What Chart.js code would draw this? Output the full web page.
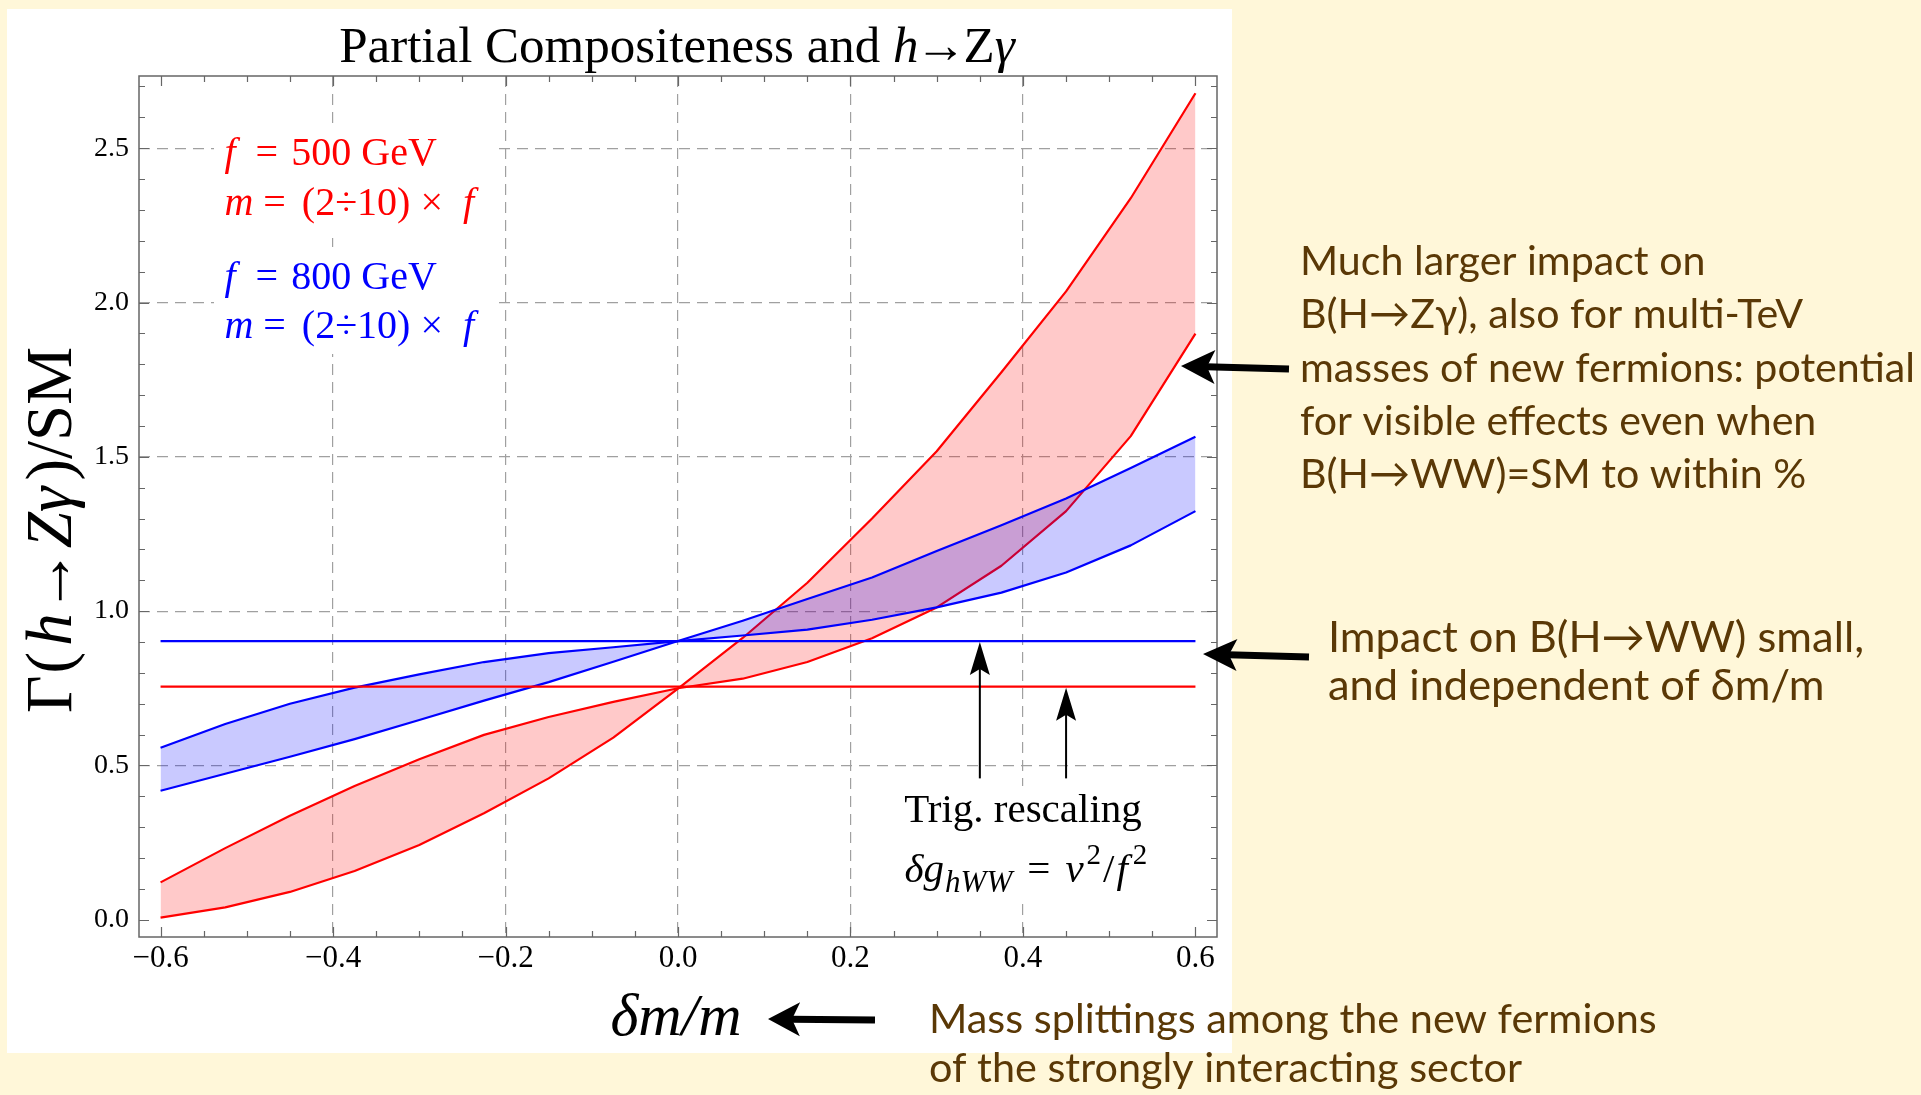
<!DOCTYPE html>
<html><head><meta charset="utf-8">
<script src="https://cdn.jsdelivr.net/npm/chart.js@4.4.0/dist/chart.umd.min.js"></script>
<style>html,body{margin:0;padding:0;background:#FFF7D9;overflow:hidden}canvas{display:block}</style>
</head><body>
<canvas id="c" width="1921" height="1095" style="width:1921px;height:1095px"></canvas>
<script>
// ---- data ----
const deltaOverM = [-0.6,-0.525,-0.45,-0.375,-0.3,-0.225,-0.15,-0.075,0,0.075,0.15,0.225,0.3,0.375,0.45,0.525,0.6];
const f500Edge1 = [0.007,0.04,0.09,0.158,0.242,0.345,0.458,0.59,0.749,0.913,1.092,1.30,1.518,1.774,2.036,2.338,2.678];
const f500Edge2 = [0.121,0.232,0.337,0.433,0.52,0.599,0.657,0.706,0.75,0.781,0.835,0.912,1.012,1.147,1.324,1.567,1.899];
const f800Edge1 = [0.418,0.473,0.528,0.585,0.647,0.71,0.77,0.836,0.903,0.969,1.039,1.109,1.195,1.278,1.365,1.464,1.565];
const f800Edge2 = [0.557,0.634,0.70,0.752,0.795,0.835,0.864,0.883,0.903,0.921,0.94,0.972,1.012,1.06,1.125,1.213,1.324];
const trigRange = [-0.6, 0.6];
const trigF500 = 0.755;
const trigF800 = 0.903;
const xTickVals = [-0.6,-0.4,-0.2,0,0.2,0.4,0.6];
const xTickLabels = ["\u22120.6","\u22120.4","\u22120.2","0.0","0.2","0.4","0.6"];
const yTickVals = [0,0.5,1,1.5,2,2.5];
const yTickLabels = ["0.0","0.5","1.0","1.5","2.0","2.5"];
const noteArrowX = [0.35, 0.45];
const noteArrowFrom = 0.458;
const noteArrowTo = [0.90, 0.752];

// ---- styling ----
const SERIF = '"Liberation Serif","Times New Roman",serif';
const SANS = 'Lato,"Open Sans",sans-serif';
const BROWN = '#5A3806';
const RED = '#FF0000', BLUE = '#0000FF';

function lineDs(label, xs, ys, color, fill, bg) {
  return { label, data: xs.map((x, i) => ({ x, y: ys[i] })), borderColor: color, borderWidth: 2.2,
    pointRadius: 0, tension: 0, fill: fill, backgroundColor: bg || 'transparent', borderJoinStyle: 'round' };
}

function drawRich(ctx, segs, x, y, align) {
  let w = 0;
  segs.forEach(s => { ctx.font = s.f; s.w = ctx.measureText(s.t).width; w += (s.g || 0) + s.w; });
  let cx = align === 'center' ? x - w / 2 : (align === 'right' ? x - w : x);
  ctx.textAlign = 'left'; ctx.textBaseline = 'alphabetic';
  segs.forEach(s => { cx += (s.g || 0); ctx.font = s.f; ctx.fillText(s.t, cx, y + (s.dy || 0)); cx += s.w; });
  return w;
}

function arrow(ctx, x1, y1, x2, y2, lw, hl, hw, inset) {
  const a = Math.atan2(y2 - y1, x2 - x1);
  const L = Math.hypot(x2 - x1, y2 - y1);
  ctx.save(); ctx.translate(x2, y2); ctx.rotate(a);
  ctx.fillStyle = '#000';
  ctx.fillRect(-L, -lw / 2, L - hl + inset + 1, lw);
  ctx.beginPath(); ctx.moveTo(0, 0); ctx.lineTo(-hl, -hw); ctx.lineTo(-hl + inset, 0); ctx.lineTo(-hl, hw); ctx.closePath(); ctx.fill();
  ctx.restore();
}

function fitBlock(ctx, lines, refIdx, targetW, x, baselines) {
  ctx.font = '40px ' + SANS;
  const w40 = ctx.measureText(lines[refIdx]).width;
  const size = 40 * targetW / w40;
  ctx.font = size.toFixed(2) + 'px ' + SANS;
  ctx.fillStyle = BROWN; ctx.textAlign = 'left'; ctx.textBaseline = 'alphabetic';
  lines.forEach((t, i) => ctx.fillText(t, x, baselines[i]));
}

const decor = {
  id: 'decor',
  beforeDraw(chart) {
    const ctx = chart.ctx;
    ctx.save();
    ctx.fillStyle = '#FFF7D9'; ctx.fillRect(0, 0, chart.width, chart.height);
    ctx.fillStyle = '#FFFFFF'; ctx.fillRect(7, 9, 1225, 1044);
    ctx.restore();
  },
  afterDraw(chart) {
    const ctx = chart.ctx, xs = chart.scales.x, ys = chart.scales.y, a = chart.chartArea;
    ctx.save();
    // white backgrounds behind in-plot text (they hide the grid there)
    ctx.fillStyle = '#FFFFFF';
    ctx.fillRect(214, 124, 282, 114);
    ctx.fillRect(214, 247, 282, 107);
    ctx.fillRect(903, 786, 247, 116);

    // frame
    ctx.strokeStyle = '#666'; ctx.lineWidth = 1.5;
    ctx.strokeRect(a.left, a.top, a.right - a.left, a.bottom - a.top);
    // ticks (inside)
    ctx.lineWidth = 1.2;
    ctx.beginPath();
    for (let k = -12; k <= 12; k++) {
      const v = k * 0.05, px = Math.round(xs.getPixelForValue(v)) + 0.5;
      const len = (k % 4 === 0) ? 10 : 6;
      ctx.moveTo(px, a.bottom); ctx.lineTo(px, a.bottom - len);
      ctx.moveTo(px, a.top); ctx.lineTo(px, a.top + len);
    }
    for (let k = 0; k <= 27; k++) {
      const v = k * 0.1, py = Math.round(ys.getPixelForValue(v)) + 0.5;
      const len = (k % 5 === 0) ? 10 : 6;
      ctx.moveTo(a.left, py); ctx.lineTo(a.left + len, py);
      ctx.moveTo(a.right, py); ctx.lineTo(a.right - len, py);
    }
    ctx.stroke();

    // title
    ctx.fillStyle = '#000';
    const T = 51;
    drawRich(ctx, [
      { t: 'Partial Compositeness and ', f: T + 'px ' + SERIF },
      { t: 'h', f: 'italic ' + T + 'px ' + SERIF },
      { t: '\u2192', f: T + 'px ' + SERIF, g: -3 },
      { t: 'Z', f: T + 'px ' + SERIF, g: -3 },
      { t: '\u03B3', f: 'italic ' + T + 'px ' + SERIF }
    ], 677, 62, 'center');

    // axis labels
    const L = 60, LY = 65;
    drawRich(ctx, [
      { t: '\u03B4m', f: 'italic ' + L + 'px ' + SERIF },
      { t: '/', f: 'italic ' + L + 'px ' + SERIF },
      { t: 'm', f: 'italic ' + L + 'px ' + SERIF }
    ], 676, 1035, 'center');
    ctx.save();
    ctx.translate(71, 530); ctx.rotate(-Math.PI / 2);
    drawRich(ctx, [
      { t: '\u0393', f: LY + 'px ' + SERIF },
      { t: '(', f: LY + 'px ' + SERIF, g: 2 },
      { t: 'h', f: 'italic ' + LY + 'px ' + SERIF, g: 6 },
      { t: '\u2192', f: LY + 'px ' + SERIF },
      { t: 'Z', f: 'italic ' + LY + 'px ' + SERIF },
      { t: '\u03B3', f: 'italic ' + LY + 'px ' + SERIF },
      { t: ')', f: LY + 'px ' + SERIF, g: 6 },
      { t: '/SM', f: LY + 'px ' + SERIF }
    ], 0, 0, 'center');
    ctx.restore();

    // in-plot legend texts
    const F = 40, fI = 'italic ' + F + 'px ' + SERIF, fN = F + 'px ' + SERIF;
    const lx = xs.getPixelForValue(-0.526);
    const legendRows = [
      { c: RED, y: 2.444, kind: 'f', val: '500 GeV' },
      { c: RED, y: 2.283, kind: 'm' },
      { c: BLUE, y: 2.043, kind: 'f', val: '800 GeV' },
      { c: BLUE, y: 1.885, kind: 'm' }
    ];
    legendRows.forEach(r => {
      ctx.fillStyle = r.c;
      const by = ys.getPixelForValue(r.y);
      if (r.kind === 'f') {
        drawRich(ctx, [{ t: 'f', f: fI }, { t: '=', f: fN, g: 0.5 * F }, { t: r.val, f: fN, g: 0.33 * F }], lx, by, 'left');
      } else {
        drawRich(ctx, [{ t: 'm', f: fI }, { t: '=', f: fN, g: 0.25 * F }, { t: '(2\u00F710)', f: fN, g: 0.4 * F },
          { t: '\u00D7', f: fN, g: 0.25 * F }, { t: 'f', f: fI, g: 0.5 * F }], lx, by, 'left');
      }
    });

    // trig rescaling note
    ctx.fillStyle = '#000';
    const N = 41, nI = 'italic ' + N + 'px ' + SERIF, nN = N + 'px ' + SERIF, sI = 'italic 31px ' + SERIF, sN = '29px ' + SERIF;
    const nx = xs.getPixelForValue(0.40);
    drawRich(ctx, [{ t: 'Trig. rescaling', f: nN }], nx, ys.getPixelForValue(0.318), 'center');
    drawRich(ctx, [{ t: '\u03B4g', f: nI }, { t: 'hWW', f: sI, dy: 10, g: 1 }, { t: '=', f: nN, g: 15 }, { t: 'v', f: nI, g: 15 },
      { t: '2', f: sN, dy: -18, g: 3 }, { t: '/', f: nN, g: 2 }, { t: 'f', f: nI, g: 2 }, { t: '2', f: sN, dy: -18, g: 5 }],
      nx + 3, ys.getPixelForValue(0.123), 'center');
    noteArrowX.forEach((xv, i) => {
      const px = xs.getPixelForValue(xv);
      arrow(ctx, px, ys.getPixelForValue(noteArrowFrom), px, ys.getPixelForValue(noteArrowTo[i]), 2, 33, 10, 6);
    });

    // outer notes
    fitBlock(ctx, ['Much larger impact on', 'B(H\u2192Z\u03B3), also for multi-TeV', 'masses of new fermions: potential',
      'for visible effects even when', 'B(H\u2192WW)=SM to within %'], 2, 615, 1300, [275, 328, 381.5, 435, 488]);
    fitBlock(ctx, ['Impact on B(H\u2192WW) small,', 'and independent of \u03B4m/m'], 0, 536, 1328, [652, 699.5]);
    fitBlock(ctx, ['Mass splittings among the new fermions', 'of the strongly interacting sector'], 0, 728, 929, [1033, 1082]);

    arrow(ctx, 1289, 369, 1181, 366, 7, 34, 17, 8);
    arrow(ctx, 1309, 657, 1203, 654, 7, 34, 16, 8);
    arrow(ctx, 875, 1020, 768, 1019, 7, 32, 17, 8);
    ctx.restore();
  }
};

const gridColX = c => (c.tick && Math.abs(Math.abs(c.tick.value) - 0.6) < 1e-9) ? 'rgba(0,0,0,0)' : '#A0A0A0';
const gridColY = c => (c.tick && Math.abs(c.tick.value) < 1e-9) ? 'rgba(0,0,0,0)' : '#A0A0A0';

new Chart(document.getElementById('c'), {
  type: 'line',
  data: {
    datasets: [
      lineDs('trig f=500', trigRange, [trigF500, trigF500], RED, false),
      lineDs('trig f=800', trigRange, [trigF800, trigF800], BLUE, false),
      lineDs('f=800 edge 1', deltaOverM, f800Edge1, BLUE, '+1', 'rgba(0,0,255,0.21)'),
      lineDs('f=800 edge 2', deltaOverM, f800Edge2, BLUE, false),
      lineDs('f=500 edge 1', deltaOverM, f500Edge1, RED, '+1', 'rgba(255,0,0,0.21)'),
      lineDs('f=500 edge 2', deltaOverM, f500Edge2, RED, false)
    ]
  },
  options: {
    responsive: false, animation: false, devicePixelRatio: 1,
    layout: { padding: { left: 0, top: 76, right: 704, bottom: 98 } },
    plugins: { legend: { display: false }, tooltip: { enabled: false } },
    scales: {
      x: {
        type: 'linear', min: -0.625, max: 0.625,
        afterBuildTicks: s => { s.ticks = xTickVals.map(v => ({ value: v })); },
        afterFit: s => { s.height = 60; },
        grid: { color: gridColX, lineWidth: 1.2, drawTicks: false },
        border: { display: false, dash: [11, 7] },
        ticks: { font: { family: SERIF, size: 31 }, color: '#000', padding: 3, maxRotation: 0, autoSkip: false,
          callback: (v, i) => xTickLabels[i] }
      },
      y: {
        type: 'linear', min: -0.056, max: 2.734,
        afterBuildTicks: s => { s.ticks = yTickVals.map(v => ({ value: v })); },
        afterFit: s => { s.width = 139; },
        grid: { color: gridColY, lineWidth: 1.2, drawTicks: false },
        border: { display: false, dash: [11, 7] },
        ticks: { font: { family: SERIF, size: 28 }, color: '#000', padding: 10, autoSkip: false,
          callback: (v, i) => yTickLabels[i] }
      }
    }
  },
  plugins: [decor]
});
</script>
</body></html>
